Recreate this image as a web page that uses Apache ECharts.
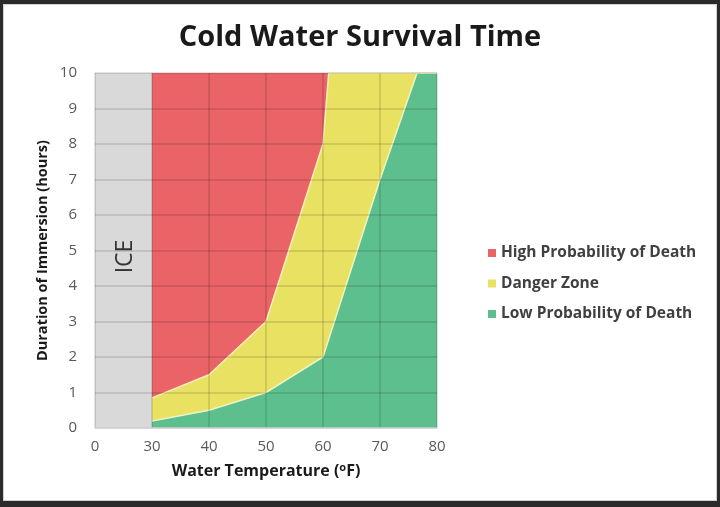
<!DOCTYPE html>
<html>
<head>
<meta charset="utf-8">
<script src="https://cdn.jsdelivr.net/npm/echarts@6/dist/echarts.min.js"></script>
<style>
html, body { margin: 0; padding: 0; background: #2b2b2b; }
#frame {
    width: 720px; height: 507px; box-sizing: border-box;
    border-style: solid; border-color: #2b2b2b;
    border-width: 4px 3px 6px 3px;
}
#main { width: 714px; height: 497px; background: #ffffff; box-sizing: border-box; border: 1px solid #d0d0d0; }
</style>
</head>
<body>
<div id="frame"><div id="main"></div></div>
<script>
// x axis runs 20..80, the first tick is labelled "0" like the original
var xTickLabels = ['0', '30', '40', '50', '60', '70', '80'];
var iceZone = [20, 30];

var highTop = [[30, 10], [61, 10]];
var dangerTop = [[30, 0.85], [40, 1.5], [50, 3], [60, 8], [61, 10], [80, 10]];
var lowTop = [[30, 0.2], [40, 0.5], [50, 1], [60, 2], [70, 7], [76.5, 10], [80, 10]];

var names = ['High Probability of Death', 'Danger Zone', 'Low Probability of Death'];
var colors = ['#e96367', '#e9e161', '#5dbf8e'];

var chartDom = document.getElementById('main');
var myChart = echarts.init(chartDom);
var font = '"Open Sans", sans-serif';

var option = {
    animation: false,
    color: colors,
    title: {
        text: 'Cold Water Survival Time',
        left: 'center',
        top: 13,
        textStyle: { fontFamily: font, fontSize: 29, fontWeight: 'bold', color: '#1a1a1a' }
    },
    legend: {
        data: names,
        orient: 'vertical',
        left: 479,
        top: 235,
        itemWidth: 8,
        itemHeight: 8,
        itemGap: 14.5,
        icon: 'rect',
        textStyle: { fontFamily: font, fontSize: 15.5, fontWeight: 'bold', color: '#404040' }
    },
    grid: { left: 91, right: 279, top: 68, bottom: 72 },
    xAxis: {
        type: 'value',
        min: 20,
        max: 80,
        interval: 10,
        z: 3,
        name: '{t|Water Temperature (}{s|o}{t|F)}',
        nameLocation: 'middle',
        nameGap: 34,
        nameTextStyle: {
            rich: {
                t: { fontFamily: font, fontSize: 16, fontWeight: 'bold', color: '#1a1a1a' },
                s: { fontFamily: font, fontSize: 11, fontWeight: 'bold', color: '#1a1a1a', verticalAlign: 'top', padding: [0, 0, 7, 0] }
            }
        },
        axisLine: { show: true, lineStyle: { color: '#d4d4d4', width: 1.5 } },
        axisTick: { show: false },
        axisLabel: {
            fontFamily: font, fontSize: 15, color: '#595959', margin: 11,
            formatter: function (v) { return xTickLabels[Math.round((v - 20) / 10)]; }
        },
        splitLine: { show: true, lineStyle: { color: 'rgba(0,0,0,0.15)', width: 1.5 } }
    },
    yAxis: {
        type: 'value',
        min: 0,
        max: 10,
        interval: 1,
        z: 3,
        name: 'Duration of Immersion (hours)',
        nameLocation: 'middle',
        nameGap: 45,
        nameTextStyle: { fontFamily: font, fontSize: 14.5, fontWeight: 'bold', color: '#1a1a1a' },
        axisLine: { show: false },
        axisTick: { show: false },
        axisLabel: { fontFamily: font, fontSize: 15, color: '#595959', margin: 18 },
        splitLine: { show: true, lineStyle: { color: 'rgba(0,0,0,0.15)', width: 1.5 } }
    },
    series: [
        {
            name: names[0],
            type: 'line',
            data: highTop,
            symbol: 'none',
            z: 1,
            itemStyle: { color: colors[0] },
            lineStyle: { width: 0 },
            areaStyle: { color: colors[0], opacity: 1 }
        },
        {
            name: names[1],
            type: 'line',
            data: dangerTop,
            symbol: 'none',
            z: 1,
            itemStyle: { color: colors[1] },
            lineStyle: { color: '#f6f0bc', width: 1.5 },
            areaStyle: { color: colors[1], opacity: 1 }
        },
        {
            name: names[2],
            type: 'line',
            data: lowTop,
            symbol: 'none',
            z: 1,
            itemStyle: { color: colors[2] },
            lineStyle: { color: '#eef5c4', width: 1.5 },
            areaStyle: { color: colors[2], opacity: 1 }
        },
        {
            name: 'ICE',
            type: 'line',
            data: [],
            z: 5,
            markArea: {
                silent: true,
                itemStyle: { color: '#d9d9d9', opacity: 1 },
                label: {
                    show: true,
                    position: 'inside',
                    rotate: 90,
                    offset: [-6, 2],
                    fontFamily: font,
                    fontSize: 23,
                    color: '#333333'
                },
                data: [[
                    { name: 'ICE', xAxis: iceZone[0], yAxis: 0 },
                    { xAxis: iceZone[1], yAxis: 10 }
                ]]
            }
        }
    ]
};
option && myChart.setOption(option);
</script>
</body>
</html>
